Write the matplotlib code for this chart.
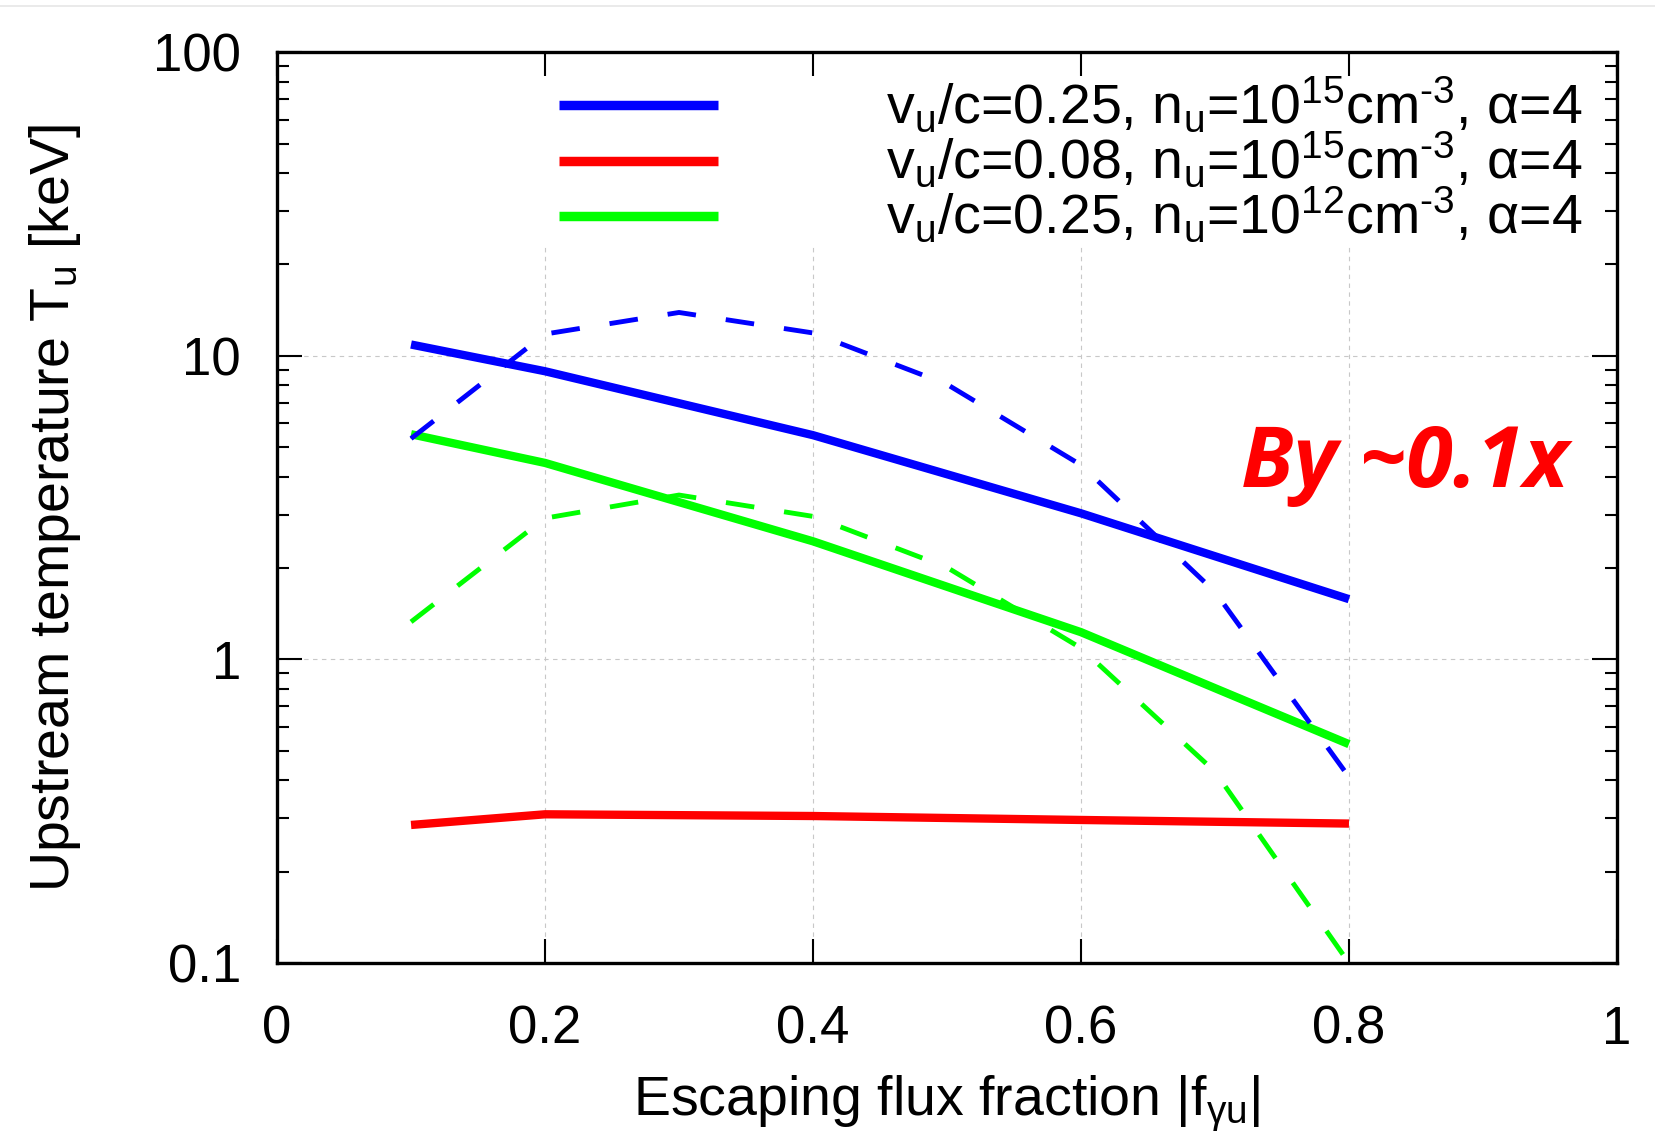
import numpy as np
import matplotlib
matplotlib.use("Agg")
import matplotlib.pyplot as plt
from matplotlib.lines import Line2D
from matplotlib.patches import Rectangle
from matplotlib.ticker import FixedLocator, LogLocator, NullLocator, FuncFormatter

plt.rcParams['font.family'] = ['Liberation Sans', 'DejaVu Sans']
plt.rcParams['mathtext.fontset'] = 'custom'
plt.rcParams['mathtext.rm'] = 'Liberation Sans'
plt.rcParams['mathtext.it'] = 'Liberation Sans:italic'

# escaping flux fraction |f_gamma u|
x_solid = [0.1, 0.2, 0.4, 0.6, 0.8]
x_dash = [0.1, 0.2, 0.3, 0.4, 0.5, 0.6, 0.7, 0.8]

# upstream temperature T_u [keV], solid curves
blue_solid = [10.9, 8.9, 5.48, 3.03, 1.58]
red_solid = [0.285, 0.309, 0.305, 0.296, 0.288]
green_solid = [5.52, 4.44, 2.45, 1.23, 0.526]

# dashed curves
blue_dash = [5.34, 11.8, 13.9, 11.9, 8.06, 4.37, 1.67, 0.41]
green_dash = [1.33, 2.92, 3.48, 2.96, 2.01, 1.09, 0.427, 0.1]

# U+2010 hyphen so the exponent keeps a short dash like the original
labels = [
    'v$_\\mathregular{u}$/c=0.25, n$_\\mathregular{u}$=10$^\\mathregular{15}$cm$^\\mathregular{\u20103}$, α=4',
    'v$_\\mathregular{u}$/c=0.08, n$_\\mathregular{u}$=10$^\\mathregular{15}$cm$^\\mathregular{\u20103}$, α=4',
    'v$_\\mathregular{u}$/c=0.25, n$_\\mathregular{u}$=10$^\\mathregular{12}$cm$^\\mathregular{\u20103}$, α=4',
]
colors = ['#0000ff', '#ff0000', '#00ff00']

fig = plt.figure(figsize=(16.55, 11.37), dpi=100)
ax = fig.add_axes([0.1674, 0.153, 0.8096, 0.801])

ax.set_yscale('log')
ax.set_xlim(0, 1)
ax.set_ylim(0.1, 100)

# grid drawn by hand so the key box can hide it
for xv in [0.2, 0.4, 0.6, 0.8]:
    ax.axvline(xv, color='#c8c8c8', lw=0.8, ls=(0, (4, 4)), zorder=1)
for yv in [1, 10]:
    ax.axhline(yv, color='#c8c8c8', lw=0.8, ls=(0, (4, 4)), zorder=1)
ax.add_patch(Rectangle((0.17, 0.788), 0.83, 0.212, transform=ax.transAxes,
                       facecolor='white', edgecolor='none', zorder=1.5))

lw_s = 6.0
lw_d = 3.5
dash = (0, (5.9, 6.2))
ax.plot(x_solid, blue_solid, color=colors[0], lw=lw_s, solid_capstyle='butt', zorder=3)
ax.plot(x_solid, red_solid, color=colors[1], lw=lw_s, solid_capstyle='butt', zorder=3)
ax.plot(x_solid, green_solid, color=colors[2], lw=lw_s, solid_capstyle='butt', zorder=3)
ax.plot(x_dash, blue_dash, color=colors[0], lw=lw_d, ls=dash, dash_capstyle='butt', zorder=4)
ax.plot(x_dash, green_dash, color=colors[2], lw=lw_d, ls=dash, dash_capstyle='butt', zorder=4)

# key
line_y = [0.9422, 0.8811, 0.8203]
text_y = [0.922, 0.8614, 0.801]
for c, ly, ty, lab in zip(colors, line_y, text_y, labels):
    ax.add_line(Line2D([0.2104, 0.329], [ly, ly], transform=ax.transAxes,
                       color=c, lw=6.8, solid_capstyle='butt', zorder=3))
    ax.text(0.9746, ty, lab, transform=ax.transAxes, ha='right', va='baseline',
            fontsize=40, zorder=3)

ax.text(0.842, 0.5225, 'By ~0.1x', transform=ax.transAxes, ha='center', va='baseline',
        color='#ff0000', fontsize=61, fontweight='bold', fontstyle='italic',
        family=['Open Sans', 'DejaVu Sans'], zorder=5)

# ticks
ax.xaxis.set_major_locator(FixedLocator([0, 0.2, 0.4, 0.6, 0.8, 1.0]))
ax.xaxis.set_minor_locator(NullLocator())
ax.xaxis.set_major_formatter(FuncFormatter(lambda v, p: f'{v:g}'))
ax.yaxis.set_major_locator(FixedLocator([0.1, 1, 10, 100]))
ax.yaxis.set_minor_locator(LogLocator(base=10, subs=np.arange(2, 10)))
ax.yaxis.set_major_formatter(FuncFormatter(lambda v, p: f'{v:g}'))
ax.yaxis.set_minor_formatter(FuncFormatter(lambda v, p: ''))
ax.tick_params(which='both', direction='in', top=True, right=True, width=1.5, color='black')
ax.tick_params(axis='y', which='major', length=18, pad=26, labelsize=38)
ax.tick_params(axis='y', which='minor', length=8.6)
ax.tick_params(axis='x', which='major', length=17, pad=30, labelsize=38)
for s in ax.spines.values():
    s.set_linewidth(2.4)
    s.set_zorder(6)

ax.set_xlabel(r'Escaping flux fraction |f$_\mathregular{γu}$|', fontsize=40, va='baseline')
ax.xaxis.set_label_coords(0.5, -0.1676)
ax.set_ylabel(r'Upstream temperature T$_\mathregular{u}$ [keV]', fontsize=40, va='baseline')
ax.yaxis.set_label_coords(-0.1555, 0.5)

fig.add_artist(Line2D([0, 1], [1 - 6 / 1137, 1 - 6 / 1137], transform=fig.transFigure,
                      color='#e6e6e6', lw=1.2))

fig.savefig('out.png', dpi=100)
